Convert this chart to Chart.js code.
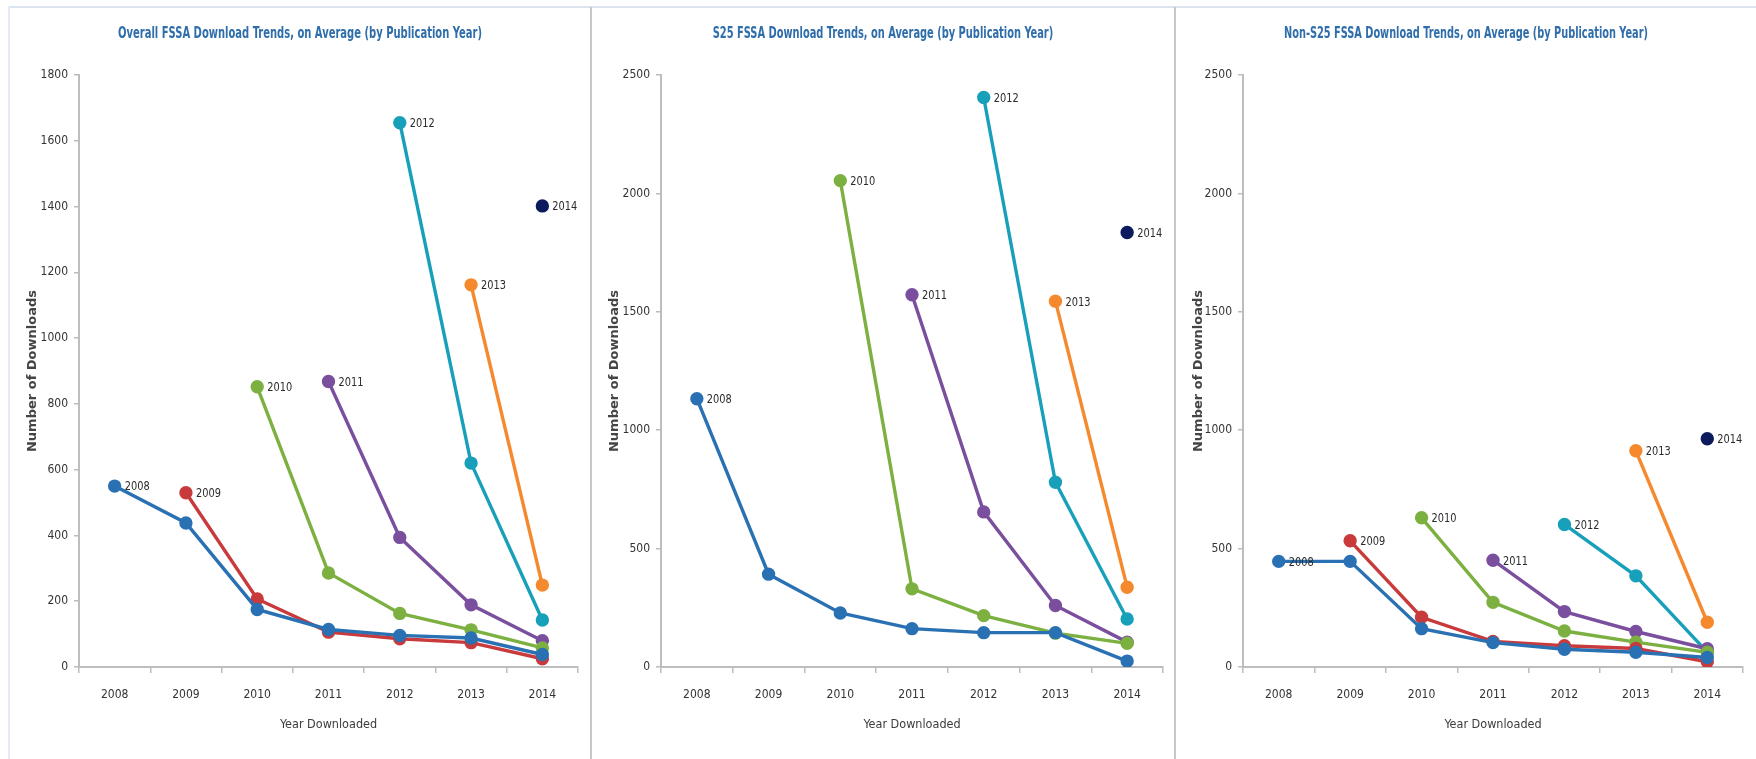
<!DOCTYPE html>
<html><head><meta charset="utf-8">
<script src="https://cdn.jsdelivr.net/npm/chart.js@4.4.1/dist/chart.umd.min.js"></script>
<style>
html,body{margin:0;padding:0;background:#fff;}
body{width:1756px;height:759px;overflow:hidden;position:relative;}
.hline{position:absolute;left:9px;top:6px;width:1747px;height:2px;background:#dce5ef;}
.vline{position:absolute;left:8px;top:6px;width:2px;height:753px;background:#e3eaf3;}
.divider{position:absolute;top:7px;width:2px;height:752px;background:#c8c8c8;}
canvas{position:absolute;top:9px;}
</style></head><body>
<div class="hline"></div><div class="vline"></div>
<div class="divider" style="left:590px"></div>
<div class="divider" style="left:1174px"></div>
<canvas id="c1" width="580" height="750" style="left:10px"></canvas>
<canvas id="c2" width="582" height="750" style="left:592px"></canvas>
<canvas id="c3" width="580" height="750" style="left:1176px"></canvas>
<script>
// ---- categories / tick labels ----
const years = ['2008','2009','2010','2011','2012','2013','2014'];
const seriesNames = ['2008','2009','2010','2011','2012','2013','2014'];

// ---- Overall FSSA (average downloads by year downloaded, per publication year) ----
const overall2008 = [550, 438, 175, 114, 96, 88, 38];
const overall2009 = [null, 530, 207, 106, 86, 74, 25];
const overall2010 = [null, null, 852, 286, 163, 113, 58];
const overall2011 = [null, null, null, 868, 394, 189, 80];
const overall2012 = [null, null, null, null, 1655, 620, 143];
const overall2013 = [null, null, null, null, null, 1162, 249];
const overall2014 = [null, null, null, null, null, null, 1402];

// ---- S25 FSSA ----
const s25_2008 = [1133, 392, 228, 162, 145, 145, 25];
const s25_2010 = [null, null, 2054, 330, 217, 143, 100];
const s25_2011 = [null, null, null, 1572, 655, 260, 105];
const s25_2012 = [null, null, null, null, 2405, 780, 203];
const s25_2013 = [null, null, null, null, null, 1545, 337];
const s25_2014 = [null, null, null, null, null, null, 1835];

// ---- Non-S25 FSSA ----
const non2008 = [446, 446, 162, 103, 75, 62, 40];
const non2009 = [null, 533, 210, 108, 90, 78, 22];
const non2010 = [null, null, 630, 273, 152, 105, 62];
const non2011 = [null, null, null, 451, 234, 150, 77];
const non2012 = [null, null, null, null, 602, 385, 63];
const non2013 = [null, null, null, null, null, 913, 189];
const non2014 = [null, null, null, null, null, null, 964];

// ---- axis tick settings ----
const overallTicks = {max: 1800, step: 200};
const s25Ticks = {max: 2500, step: 500};
const nonTicks = {max: 2500, step: 500};

// ---- styles ----
const seriesColors = {
  '2008':'#2a71b3','2009':'#c83a3b','2010':'#7cb040','2011':'#7a4f9e',
  '2012':'#18a0ba','2013':'#f5892d','2014':'#0c1a5e'
};
const NARROW = "'Liberation Sans Narrow','DejaVu Sans Condensed','Open Sans',sans-serif";

// labels next to the first point of each series
const pointLabels = {
  id:'pointLabels',
  afterDatasetsDraw(chart){
    const ctx = chart.ctx;
    ctx.save();
    ctx.font = "13px " + NARROW;
    ctx.fillStyle = '#2b2b2b';
    ctx.textBaseline = 'middle';
    ctx.textAlign = 'left';
    chart.data.datasets.forEach((ds,i)=>{
      const meta = chart.getDatasetMeta(i);
      const idx = ds.data.findIndex(v=>v!==null);
      const el = meta.data[idx];
      if (el) ctx.fillText(ds.label, el.x + 10, el.y + 1, 25);
    });
    ctx.restore();
  }
};

// condensed (Calibri-like) panel title
const panelTitle = {
  id:'panelTitle',
  afterDraw(chart, args, opts){
    const ctx = chart.ctx;
    ctx.save();
    ctx.font = "bold 16px " + NARROW;
    ctx.fillStyle = opts.color;
    ctx.textAlign = 'center';
    ctx.textBaseline = 'middle';
    ctx.fillText(opts.text, chart.width/2, opts.y, opts.text.length * 5.87);
    ctx.restore();
  }
};

function ds(name, data){
  const c = seriesColors[name];
  return {label:name, data:data, borderColor:c, backgroundColor:c,
          pointBackgroundColor:c, pointBorderColor:c, borderWidth:3.4,
          pointRadius:5, pointHoverRadius:5, tension:0, spanGaps:false};
}

function makeChart(id, title, ticks, datasets, yWidth, rightPad){
  return new Chart(document.getElementById(id), {
    type:'line',
    data:{labels:years, datasets:datasets},
    options:{
      responsive:false, animation:false, devicePixelRatio:1,
      layout:{padding:{left:0,right:rightPad,top:66,bottom:0}},
      plugins:{
        legend:{display:false}, tooltip:{enabled:false}, title:{display:false},
        panelTitle:{text:title, color:'#2f6eab', y:25}
      },
      scales:{
        x:{
          offset:true,
          grid:{display:true, drawOnChartArea:false, offset:true, tickLength:6, color:'#bdbdbd', lineWidth:1.5},
          border:{display:true, color:'#bdbdbd', width:2},
          ticks:{color:'#333', font:{family:NARROW, size:12}, padding:15, maxRotation:0, autoSkip:false},
          title:{display:true, text:'Year Downloaded', color:'#3c3c3c',
                 font:{family:NARROW, size:12.5, lineHeight:1.2}, padding:{top:0,bottom:27}},
          afterFit(s){ s.height = 92; }
        },
        y:{
          min:0, max:ticks.max,
          ticks:{stepSize:ticks.step, color:'#333', font:{family:NARROW, size:12}, padding:6,
                 callback:(v)=>String(v)},
          grid:{display:true, drawOnChartArea:false, tickLength:5, color:'#bdbdbd', lineWidth:1.5},
          border:{display:true, color:'#bdbdbd', width:2},
          title:{display:true, text:'Number of Downloads', color:'#454545',
                 font:{family:"'DejaVu Sans',sans-serif", size:13, weight:'bold', lineHeight:1.2}, padding:{top:15,bottom:0}},
          afterFit(s){ s.width = yWidth; }
        }
      }
    },
    plugins:[pointLabels, panelTitle]
  });
}

makeChart('c1', 'Overall FSSA Download Trends, on Average (by Publication Year)', overallTicks, [
  ds('2008', overall2008), ds('2009', overall2009), ds('2010', overall2010), ds('2011', overall2011),
  ds('2012', overall2012), ds('2013', overall2013), ds('2014', overall2014)
], 69, 12);

makeChart('c2', 'S25 FSSA Download Trends, on Average (by Publication Year)', s25Ticks, [
  ds('2008', s25_2008), ds('2010', s25_2010), ds('2011', s25_2011),
  ds('2012', s25_2012), ds('2013', s25_2013), ds('2014', s25_2014)
], 69, 11);

makeChart('c3', 'Non-S25 FSSA Download Trends, on Average (by Publication Year)', nonTicks, [
  ds('2008', non2008), ds('2009', non2009), ds('2010', non2010), ds('2011', non2011),
  ds('2012', non2012), ds('2013', non2013), ds('2014', non2014)
], 67, 13);
</script>
</body></html>
